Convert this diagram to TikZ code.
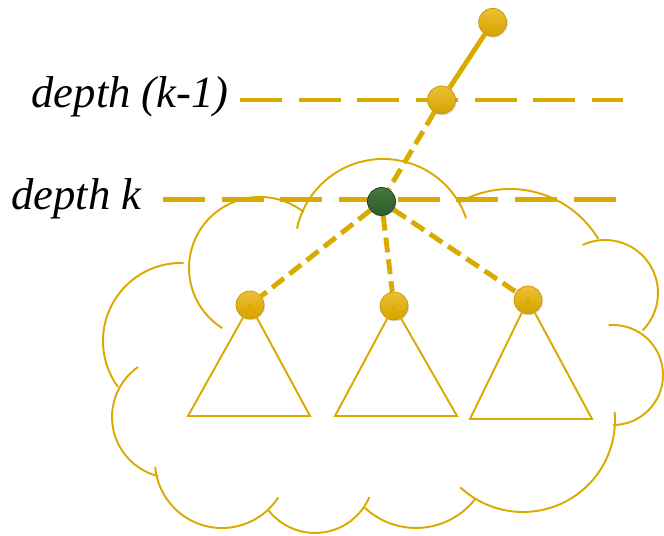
\documentclass[tikz,border=0pt]{standalone}
\usepackage{fontspec}
\setmainfont{Liberation Serif}
\usepackage{tikz}
\usetikzlibrary{shadows,backgrounds}
\usepackage{xcolor}
\definecolor{treegold}{RGB}{218,170,0}
\definecolor{nodegold}{RGB}{232,176,0}
\definecolor{leafgreen}{RGB}{50,104,42}

\begin{document}
\begin{tikzpicture}[line cap=butt,
  cloudarc/.style={treegold,line width=1.1pt},
  subtree/.style={treegold,line width=1.1pt,line join=miter},
  levelline/.style={treegold,line width=2.8pt,dash pattern=on 23.8pt off 9.6pt},
  treeedge/.style={treegold,line width=2.8pt},
  dashedge/.style={treeedge,dash pattern=on 8.5pt off 4pt},
  vertex/.style={circle,inner sep=0pt,minimum size=0.56cm,draw=nodegold!85!black,line width=0.4pt,
    top color=nodegold!80!white,bottom color=nodegold!92!black,
    drop shadow={opacity=0.25,shadow xshift=0.6pt,shadow yshift=-0.8pt}},
  focus/.style={vertex,top color=leafgreen!90!white,bottom color=leafgreen!90!black,draw=leafgreen!55!black},
  depthlabel/.style={font=\fontsize{25.4}{30}\selectfont\itshape,inner sep=0pt,anchor=base east}]
\useasboundingbox (0,0) rectangle (13.28,10.72);
% tree nodes
\node[vertex] (root) at (9.853,10.273) {};
\node[vertex] (parent) at (8.83,8.72) {};
\node[focus] (v) at (7.63,6.69) {};
\node[vertex] (c1) at (5.00,4.62) {};
\node[vertex] (c2) at (7.88,4.60) {};
\node[vertex] (c3) at (10.56,4.72) {};
\begin{scope}[on background layer]
% cloud
\draw[cloudarc] ([shift={(52:1.42)}]5.20,5.36) arc[start angle=52,end angle=238,radius=1.42];
\draw[cloudarc] ([shift={(19:1.76)}]7.66,5.78) arc[start angle=19,end angle=168,radius=1.76];
\draw[cloudarc] ([shift={(31:2.06)}]10.20,4.88) arc[start angle=31,end angle=120,radius=2.06];
\draw[cloudarc] ([shift={(-45:1.06)}]12.10,4.86) arc[start angle=-45,end angle=115,radius=1.06];
\draw[cloudarc] ([shift={(-90:1.00)}]12.26,3.22) arc[start angle=-90,end angle=95,radius=1.00];
\draw[cloudarc] ([shift={(-133:1.84)}]10.46,2.32) arc[start angle=-133,end angle=5,radius=1.84];
\draw[cloudarc] ([shift={(227:1.50)}]8.32,1.66) arc[start angle=227,end angle=322,radius=1.50];
\draw[cloudarc] ([shift={(217:1.18)}]6.30,1.24) arc[start angle=217,end angle=337,radius=1.18];
\draw[cloudarc] ([shift={(185:1.34)}]4.44,1.50) arc[start angle=185,end angle=327,radius=1.34];
\draw[cloudarc] ([shift={(125:1.22)}]3.46,2.38) arc[start angle=125,end angle=256,radius=1.22];
\draw[cloudarc] ([shift={(88:1.56)}]3.62,3.90) arc[start angle=88,end angle=216,radius=1.56];
% depth lines
\coordinate (prevL) at (4.80,8.72);
\coordinate (prevR) at (12.46,8.72);
\coordinate (curL) at (3.26,6.73);
\coordinate (curR) at (12.32,6.73);
\draw[levelline] (prevL) -- (prevR);
\draw[levelline] (curL) -- (curR);
% edges
\draw[treeedge] (root) -- (parent);
\draw[dashedge] (parent) -- (v);
\draw[dashedge] (v) -- (c1);
\draw[dashedge] (v) -- (c2);
\draw[dashedge] (v) -- (c3);
\end{scope}
% subtrees
\draw[subtree] (c1.center) -- (3.76,2.40) -- (6.20,2.40) -- cycle;
\draw[subtree] (c2.center) -- (6.70,2.40) -- (9.14,2.40) -- cycle;
\draw[subtree] (c3.center) -- (9.40,2.34) -- (11.84,2.34) -- cycle;
% labels
\node[depthlabel] (lblprev) at (4.58,8.56) {depth (k-1)};
\node[depthlabel] (lblcur) at (2.84,6.52) {depth k};
\end{tikzpicture}
\end{document}
